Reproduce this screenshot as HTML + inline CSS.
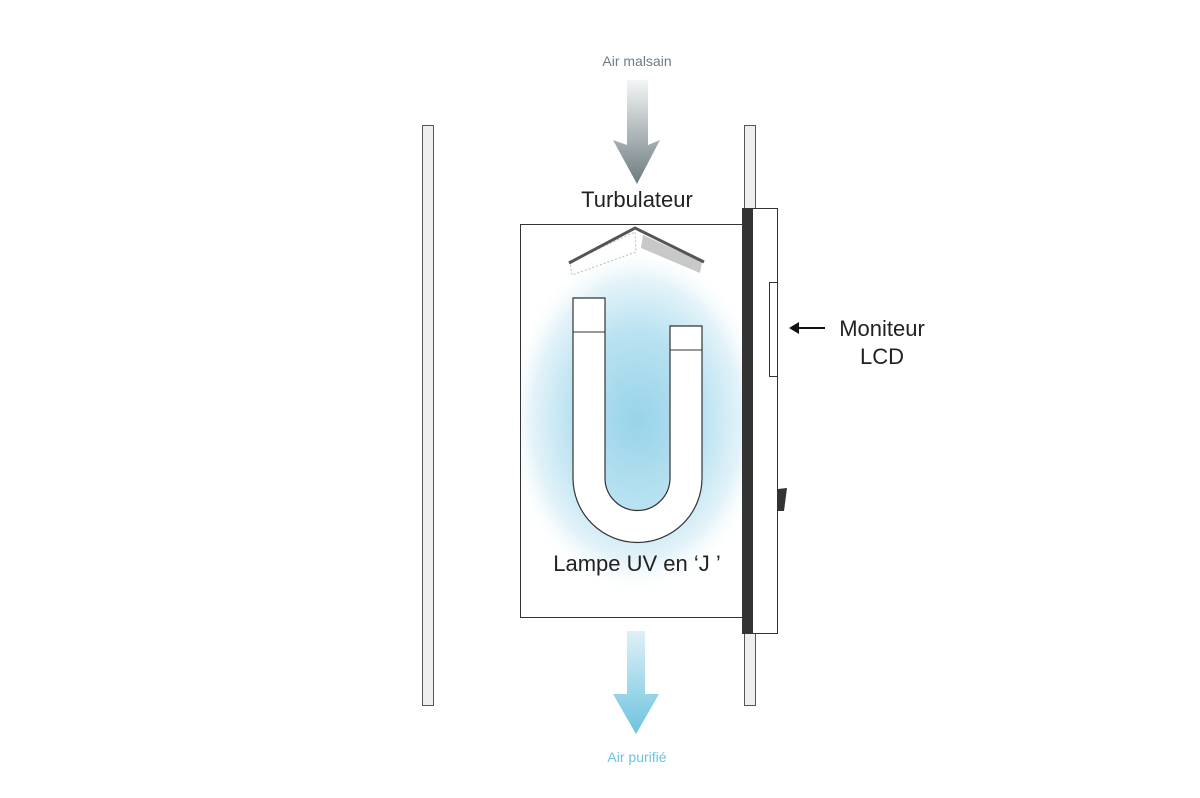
<!DOCTYPE html>
<html><head><meta charset="utf-8"><style>html,body{margin:0;padding:0;background:#fff}svg{display:block}</style></head>
<body>
<svg width="1200" height="798" viewBox="0 0 1200 798" xmlns="http://www.w3.org/2000/svg" font-family="Liberation Sans, sans-serif">
<defs>
<linearGradient id="g1" x1="0" y1="0" x2="0" y2="1"><stop offset="0" stop-color="#f4f6f6"/><stop offset="1" stop-color="#6d7b80"/></linearGradient>
<linearGradient id="g2" x1="0" y1="0" x2="0" y2="1"><stop offset="0" stop-color="#dff0f7"/><stop offset="1" stop-color="#6cc3df"/></linearGradient>
<radialGradient id="glow" cx="637" cy="420" r="175" gradientUnits="userSpaceOnUse" gradientTransform="translate(637 420) scale(0.75 1) translate(-637 -420)"><stop offset="0" stop-color="#98d3e9"/><stop offset="0.5" stop-color="#b9e2f1"/><stop offset="0.8" stop-color="#e4f3f9"/><stop offset="1" stop-color="#ffffff" stop-opacity="0"/></radialGradient>
</defs>
<!-- walls -->
<rect x="422.5" y="125.5" width="11" height="580" fill="#eee" stroke="#555"/>
<rect x="744.5" y="125.5" width="11" height="580" fill="#eee" stroke="#555"/>
<!-- top arrow -->
<text x="637" y="66" font-size="14" fill="#6d7d84" text-anchor="middle">Air malsain</text>
<polygon points="627,80 648,80 648,145 660,140 637,184 613,140 627,145" fill="url(#g1)"/>
<!-- box -->
<rect x="520.5" y="224.5" width="222" height="393" fill="#fff" stroke="#333"/>
<rect x="521" y="245" width="221" height="350" fill="url(#glow)"/>
<!-- turbulator -->
<polygon points="570,262 635,232 636,252 572,275" fill="none" stroke="#bbb" stroke-dasharray="2,2"/>
<polygon points="643,235 702,262 700,273 641,248" fill="#c8c8c8"/>
<polyline points="569,263 635,228 704,262" fill="none" stroke="#555" stroke-width="3"/>
<text x="637" y="207" font-size="22" fill="#222" text-anchor="middle">Turbulateur</text>
<!-- U lamp -->
<path d="M573,298 L605,298 L605,478 A32.5,32.5 0 0 0 670,478 L670,326 L702,326 L702,478 A64.5,64.5 0 0 1 573,478 Z" fill="#fff" stroke="#333" stroke-width="1.2"/>
<line x1="573" y1="332" x2="605" y2="332" stroke="#333"/>
<line x1="670" y1="350" x2="702" y2="350" stroke="#333"/>
<text x="637" y="571" font-size="22" fill="#222" text-anchor="middle">Lampe UV en ‘J ’</text>
<!-- black bar & panel -->
<rect x="752.5" y="208.5" width="25" height="425" fill="#fff" stroke="#333"/>
<rect x="742" y="208" width="11" height="426" fill="#333"/>
<rect x="769.5" y="282.5" width="8" height="94" fill="#fff" stroke="#333"/>
<polygon points="778,489 787,488 784,511 778,511" fill="#333"/>
<!-- monitor label -->
<line x1="793" y1="328" x2="825" y2="328" stroke="#111" stroke-width="2"/>
<polygon points="789,328 799,322 799,334" fill="#111"/>
<text x="882" y="336" font-size="22" fill="#222" text-anchor="middle">Moniteur</text>
<text x="882" y="364" font-size="22" fill="#222" text-anchor="middle">LCD</text>
<!-- bottom arrow -->
<polygon points="627,631 645,631 645,694 659,694 636,734 613,694 627,694" fill="url(#g2)"/>
<text x="637" y="762" font-size="14" fill="#6cc3df" text-anchor="middle">Air purifié</text>
</svg>
</body></html>
